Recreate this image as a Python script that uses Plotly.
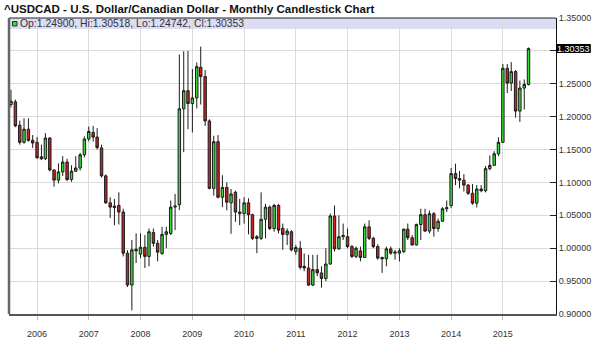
import pandas as pd
import plotly.graph_objects as go

# Monthly candles, Jul 2005 .. Jul 2015
months = [d.strftime("%Y-%m-%d") for d in pd.date_range("2005-07-01", periods=121, freq="MS")]

opens = [
    1.2185, 1.2225, 1.1870, 1.1610, 1.1810, 1.1640,
    1.1610, 1.1390, 1.1360, 1.1675, 1.1190, 1.1035, 1.1160, 1.1310, 1.1045, 1.1170, 1.1220, 1.1420,
    1.1660, 1.1760, 1.1690, 1.1525, 1.1100, 1.0690, 1.0640, 1.0650, 1.0550, 0.9925, 0.9440, 0.9985,
    0.9910, 1.0015, 0.9875, 1.0240, 1.0075, 0.9920, 1.0210, 1.0225, 1.0625, 1.0660, 1.2120, 1.2395,
    1.2200, 1.2285, 1.2750, 1.2610, 1.1935, 1.0910, 1.1620, 1.0775, 1.0925, 1.0690, 1.0850, 1.0550,
    1.0525, 1.0690, 1.0510, 1.0175, 1.0150, 1.0440, 1.0625, 1.0300, 1.0650, 1.0300, 1.0210, 1.0250,
    0.9950, 1.0000, 0.9725, 0.9700, 0.9440, 0.9675, 0.9625, 0.9540, 0.9760, 1.0490, 0.9990, 1.0175,
    1.0175, 1.0025, 0.9875, 0.9960, 0.9860, 1.0325, 1.0150, 1.0025, 0.9860, 0.9840, 0.9990, 0.9925,
    0.9925, 0.9950, 1.0290, 1.0160, 1.0050, 1.0360, 1.0510, 1.0260, 1.0525, 1.0300, 1.0410, 1.0600,
    1.0650, 1.1135, 1.1060, 1.1035, 1.0960, 1.0835, 1.0685, 1.0900, 1.0875, 1.1210, 1.1260, 1.1435,
    1.1610, 1.2735, 1.2510, 1.2685, 1.2085, 1.2435, 1.24900,
]
highs = [
    1.2410, 1.2260, 1.1940, 1.1975, 1.1975, 1.1720,
    1.1690, 1.1575, 1.1750, 1.1690, 1.1200, 1.1290, 1.1400, 1.1360, 1.1260, 1.1400, 1.1450, 1.1700,
    1.1850, 1.1860, 1.1825, 1.1575, 1.1120, 1.0775, 1.0750, 1.0850, 1.0600, 0.9970, 1.0125, 1.0225,
    1.0225, 1.0200, 1.0300, 1.0300, 1.0125, 1.0325, 1.0325, 1.0725, 1.0825, 1.2945, 1.2995, 1.3000,
    1.2725, 1.2825, 1.3065, 1.2710, 1.1960, 1.1710, 1.1720, 1.1110, 1.1000, 1.0900, 1.0875, 1.0750,
    1.0775, 1.0760, 1.0525, 1.0200, 1.0850, 1.0675, 1.0650, 1.0675, 1.0675, 1.0375, 1.0300, 1.0275,
    1.0050, 1.0110, 0.9920, 0.9900, 0.9900, 0.9900, 0.9725, 1.0000, 1.0525, 1.0650, 1.0500, 1.0375,
    1.0300, 1.0050, 1.0025, 1.0025, 1.0375, 1.0425, 1.0175, 1.0060, 0.9870, 1.0025, 1.0025, 0.9975,
    1.0000, 1.0300, 1.0375, 1.0200, 1.0375, 1.0600, 1.0600, 1.0575, 1.0550, 1.0450, 1.0625, 1.0725,
    1.1220, 1.1285, 1.1175, 1.1125, 1.0975, 1.0975, 1.0960, 1.0960, 1.1250, 1.1410, 1.1475, 1.1685,
    1.2800, 1.2800, 1.2830, 1.2710, 1.2550, 1.2565, 1.30518,
]
lows = [
    1.2140, 1.1840, 1.1575, 1.1590, 1.1620, 1.1525,
    1.1360, 1.1340, 1.1340, 1.1170, 1.0935, 1.0985, 1.1100, 1.1020, 1.1010, 1.1160, 1.1180, 1.1380,
    1.1625, 1.1620, 1.1500, 1.1075, 1.0675, 1.0460, 1.0350, 1.0360, 0.9875, 0.9410, 0.9055, 0.9775,
    0.9850, 0.9700, 0.9725, 1.0025, 0.9800, 0.9900, 1.0000, 1.0200, 1.0275, 1.0580, 1.1460, 1.1810,
    1.1760, 1.2125, 1.2185, 1.1860, 1.0895, 1.0800, 1.0755, 1.0625, 1.0575, 1.0220, 1.0400, 1.0350,
    1.0375, 1.0210, 1.0125, 0.9925, 1.0125, 1.0150, 1.0275, 1.0250, 1.0225, 0.9975, 1.0050, 0.9950,
    0.9900, 0.9675, 0.9650, 0.9425, 0.9425, 0.9575, 0.9400, 0.9500, 0.9750, 0.9950, 0.9975, 1.0125,
    1.0000, 0.9850, 0.9850, 0.9800, 0.9850, 1.0125, 1.0000, 0.9825, 0.9625, 0.9725, 0.9900, 0.9825,
    0.9800, 0.9925, 1.0125, 1.0040, 1.0040, 1.0125, 1.0250, 1.0225, 1.0175, 1.0250, 1.0400, 1.0550,
    1.0610, 1.0960, 1.0910, 1.0860, 1.0810, 1.0660, 1.0620, 1.0850, 1.0850, 1.1185, 1.1250, 1.1400,
    1.1600, 1.2360, 1.2390, 1.1985, 1.1920, 1.2110, 1.24742,
]
closes = [
    1.2235, 1.1860, 1.1610, 1.1810, 1.1640, 1.1600,
    1.1375, 1.1360, 1.1675, 1.1190, 1.1035, 1.1160, 1.1310, 1.1045, 1.1170, 1.1220, 1.1420, 1.1660,
    1.1775, 1.1690, 1.1530, 1.1100, 1.0690, 1.0625, 1.0620, 1.0550, 0.9925, 0.9440, 0.9975, 0.9960,
    1.0015, 0.9875, 1.0250, 1.0075, 0.9940, 1.0210, 1.0250, 1.0625, 1.0640, 1.2120, 1.2395, 1.2200,
    1.2285, 1.2760, 1.2610, 1.1935, 1.0910, 1.1620, 1.0775, 1.0925, 1.0700, 1.0825, 1.0550, 1.0525,
    1.0690, 1.0510, 1.0150, 1.0150, 1.0440, 1.0625, 1.0300, 1.0650, 1.0275, 1.0210, 1.0260, 0.9975,
    1.0010, 0.9710, 0.9700, 0.9440, 0.9675, 0.9625, 0.9540, 0.9760, 1.0490, 0.9990, 1.0175, 1.0195,
    1.0025, 0.9875, 1.0000, 0.9860, 1.0325, 1.0150, 1.0025, 0.9850, 0.9840, 0.9990, 0.9925, 0.9940,
    0.9960, 1.0290, 1.0160, 1.0050, 1.0360, 1.0510, 1.0260, 1.0525, 1.0300, 1.0410, 1.0600, 1.0615,
    1.1135, 1.1060, 1.1035, 1.0960, 1.0835, 1.0685, 1.0900, 1.0875, 1.1210, 1.1260, 1.1435, 1.1610,
    1.2735, 1.2510, 1.2685, 1.2085, 1.2435, 1.2490, 1.30353,
]

year_ticks = ["%d-01-01" % y for y in range(2006, 2016)]
year_labels = [str(y) for y in range(2006, 2016)]
price_ticks = [0.90, 0.95, 1.00, 1.05, 1.10, 1.15, 1.20, 1.25, 1.30, 1.35]
last_price = closes[-1]

title_text = "^USDCAD - U.S. Dollar/Canadian Dollar - Monthly Candlestick Chart"
legend_text = "Op:%.5f, Hi:%.5f, Lo:%.5f, Cl:%.5f" % (opens[-1], highs[-1], lows[-1], closes[-1])

FONT = "Liberation Sans, Arial, sans-serif"
GREEN = "#3ADB3A"
RED = "#CC2222"
EDGE = "#1c1c1c"

fig = go.Figure(go.Candlestick(
    x=months, open=opens, high=highs, low=lows, close=closes,
    increasing=dict(fillcolor=GREEN, line=dict(color=EDGE, width=1)),
    decreasing=dict(fillcolor=RED, line=dict(color=EDGE, width=1)),
    whiskerwidth=0,
    hoverinfo="x+y",
))

W, H = 600, 352
ML, MR, MT, MB = 9, 41, 18, 38
PW, PH = W - ML - MR, H - MT - MB

def px_x(px):
    return (px - ML) / PW

def px_y(py):
    return 1 - (py - MT) / PH

price_text = ["%.5f" % v if abs(v - 1.30) > 1e-9 else "" for v in price_ticks]

fig.update_layout(
    width=W, height=H,
    margin=dict(l=ML, r=MR, t=MT, b=MB),
    paper_bgcolor="white", plot_bgcolor="white",
    showlegend=False,
    boxgap=0.12,
    font=dict(family=FONT, color="#333333"),
    xaxis=dict(
        type="date",
        range=["2005-06-17", "2016-01-11"],
        rangeslider=dict(visible=False),
        tickvals=year_ticks, ticktext=year_labels,
        showgrid=True, gridcolor="#dadada", gridwidth=1,
        ticks="outside", ticklen=4, tickcolor="#bbbbbb",
        ticklabelstandoff=6,
        tickfont=dict(size=9, family=FONT, color="#333333"),
        showline=True, linecolor="#555555", linewidth=2,
        zeroline=False,
    ),
    yaxis=dict(
        side="right",
        range=[0.90, 1.35],
        tickvals=price_ticks, ticktext=price_text,
        showgrid=True, gridcolor="#dadada", gridwidth=1,
        ticks="inside", ticklen=6, tickcolor="#222222",
        tickfont=dict(size=9, family=FONT, color="#333333"),
        showline=True, linecolor="#111111", linewidth=1,
        zeroline=False,
    ),
    shapes=[
        # lavender info band at top of plot
        dict(type="rect", xref="paper", yref="paper", x0=0, x1=1, y0=px_y(29), y1=1,
             fillcolor="#DCDCF5", line=dict(width=0), layer="below"),
        # top border
        dict(type="line", xref="paper", yref="paper", x0=0, x1=1, y0=1, y1=1,
             line=dict(color="#222222", width=1)),
        # left border
        dict(type="line", xref="paper", yref="paper", x0=0, x1=0, y0=0, y1=1,
             line=dict(color="#666666", width=2.5)),
        # legend icon
        dict(type="rect", xref="paper", yref="paper", x0=px_x(12.5), x1=px_x(17), y0=px_y(26), y1=px_y(21.5),
             fillcolor=GREEN, line=dict(color="#1c3c1c", width=1)),
        # last price box
        dict(type="rect", xref="paper", yref="y", x0=1, x1=px_x(594),
             y0=last_price - 0.0068, y1=last_price + 0.0068,
             fillcolor="black", line=dict(width=0)),
    ],
    annotations=[
        dict(text="<b>%s</b>" % title_text, xref="paper", yref="paper",
             x=px_x(2), y=px_y(8.5), xanchor="left", yanchor="middle",
             showarrow=False, font=dict(size=11.5, family=FONT, color="#111111")),
        dict(text=legend_text, xref="paper", yref="paper",
             x=px_x(18.3), y=px_y(23.8), xanchor="left", yanchor="middle",
             showarrow=False, font=dict(size=10.4, family=FONT, color="#333333")),
        dict(text="%.5f" % last_price, xref="paper", yref="y",
             x=px_x(559), y=last_price, xanchor="left", yanchor="middle",
             showarrow=False, borderpad=0,
             font=dict(size=9, family=FONT, color="white")),
    ],
)

fig.write_html("out.html")
